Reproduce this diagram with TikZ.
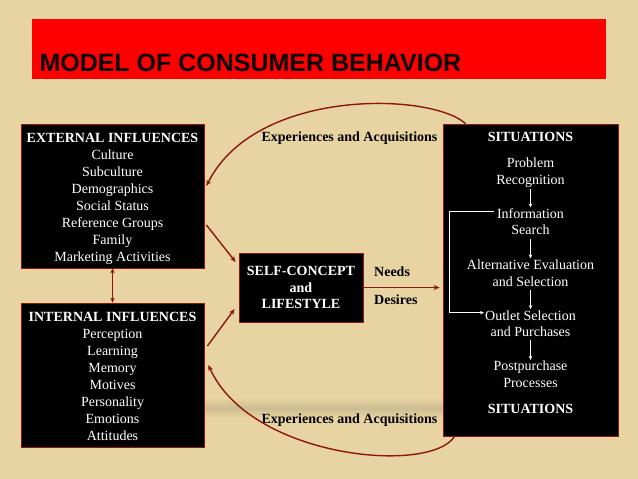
\documentclass[tikz,border=0pt]{standalone}
\usepackage{fontspec}
\setmainfont{Liberation Serif}
\newfontfamily\titlefont{Liberation Sans}
\usetikzlibrary{arrows.meta,calc}
\definecolor{bgc}{RGB}{232,212,162}
\definecolor{bandc}{RGB}{200,182,142}
\definecolor{arrowred}{RGB}{140,22,16}
\definecolor{bannerred}{RGB}{255,0,0}
\definecolor{titlec}{RGB}{12,0,0}
\newcommand\myTS{\rule{0pt}{15pt}}
\newcommand\myBS{\rule[-3pt]{0pt}{3pt}}
\begin{document}
\begin{tikzpicture}[x=1pt,y=-1pt,
  box/.style={draw=arrowred, line width=0.8pt, fill=black, text=white, inner sep=0pt, align=center, font=\fontsize{14}{17}\selectfont},
  ln/.style={text=white, font=\fontsize{14}{16.7}\selectfont, inner sep=1pt, text height=9.6pt, text depth=3pt, anchor=base},
  lbl/.style={font=\bfseries\fontsize{14}{17}\selectfont, inner sep=0pt, text=black},
  redarrow/.style={draw=arrowred, line width=1.4pt, -{Stealth[length=6pt,width=5pt]}},
  whitearrow/.style={draw=white, line width=0.7pt, -{Stealth[length=4pt,width=3.5pt]}}]
\useasboundingbox (0,0) rectangle (638,479);
\fill[bgc] (0,0) rectangle (638,479);
\shade[top color=bgc, bottom color=bgc, middle color=bandc, opacity=0.8] (190,398) rectangle (452,418);

% banner
\node[fill=bannerred, minimum width=574pt, minimum height=60pt, inner sep=0pt, anchor=north west] (banner) at (32,19) {};
\node[anchor=base west, font=\titlefont\bfseries\fontsize{25}{30}\selectfont, text=titlec, inner sep=0pt] (title) at (39.3,71) {MODEL OF CONSUMER BEHAVIOR};

% left boxes
\node[box, minimum width=183pt, minimum height=144pt] (ext) at (112.5,196)
  {\myTS\textbf{EXTERNAL INFLUENCES}\\Culture\\Subculture\\Demographics\\Social Status\\Reference Groups\\Family\\Marketing Activities\myBS};
\node[box, minimum width=183pt, minimum height=144pt] (int) at (112.5,375)
  {\myTS\textbf{INTERNAL INFLUENCES}\\Perception\\Learning\\Memory\\Motives\\Personality\\Emotions\\Attitudes\myBS};

% self concept
\node[box, font=\bfseries\fontsize{14}{16.7}\selectfont, minimum width=124pt, minimum height=69pt] (self) at (301,287.5)
  {SELF-CONCEPT\\and\\LIFESTYLE};

% situations box
\node[box, minimum width=175pt, minimum height=312pt] (sit) at (530.5,280) {};
\node[ln, font=\bfseries\fontsize{14}{16.7}\selectfont] (s1) at (530.5,141.7) {SITUATIONS};
\node[ln] (pa) at (530.5,167.7) {Problem};
\node[ln] (pb) at (530.5,184.3) {Recognition};
\node[ln] (ia) at (530.5,218.3) {Information};
\node[ln] (ib) at (530.5,234.3) {Search};
\node[ln] (aa) at (530.5,269.3) {Alternative Evaluation};
\node[ln] (ab) at (530.5,286) {and Selection};
\node[ln] (oa) at (530.5,320) {Outlet Selection};
\node[ln] (ob) at (530.5,336) {and Purchases};
\node[ln] (qa) at (530.5,370.7) {Postpurchase};
\node[ln] (qb) at (530.5,387.3) {Processes};
\node[ln, font=\bfseries\fontsize{14}{16.7}\selectfont] (s2) at (530.5,413.3) {SITUATIONS};

\draw[whitearrow] (pb.south) -- (ia.north);
\draw[whitearrow] (ib.south) -- (aa.north);
\draw[whitearrow] (ab.south) -- (oa.north);
\draw[whitearrow] (ob.south) -- (qa.north);
\draw[whitearrow] ([yshift=4pt,xshift=-2pt]ia.west) -- ([yshift=4pt,xshift=-47pt]ia.west) |- ([yshift=4pt]oa.west);

% labels
\node[lbl, anchor=base west] (needs) at (374,276.7) {Needs};
\node[lbl, anchor=base west] (desires) at (374,304) {Desires};
\node[lbl, anchor=base] (exptop) at (349.5,141.5) {Experiences and Acquisitions};
\node[lbl, anchor=base] (expbot) at (349.5,423) {Experiences and Acquisitions};

% red connectors
\draw[redarrow] ([xshift=2pt,yshift=-29pt]ext.east) -- ([xshift=-3pt,yshift=25.5pt]self.west);
\draw[redarrow] ([xshift=3pt,yshift=29pt]int.east) -- ([xshift=-4pt,yshift=-21.5pt]self.west);
\draw[draw=arrowred, line width=1.4pt, {Stealth[length=5pt,width=4.5pt]}-{Stealth[length=5pt,width=4.5pt]}] (ext.south) -- (int.north);
\draw[redarrow, shorten >=3pt] (self.east) -- (self.east -| sit.west);
\draw[redarrow] ([xshift=23pt]sit.north west) .. controls (430,92) and (255,88) .. ([xshift=2pt,yshift=10pt]ext.east);
\draw[redarrow] ([xshift=12pt]sit.south west) .. controls (430,475) and (250,458) .. ([xshift=4pt,yshift=10pt]int.east);
\end{tikzpicture}
\end{document}
